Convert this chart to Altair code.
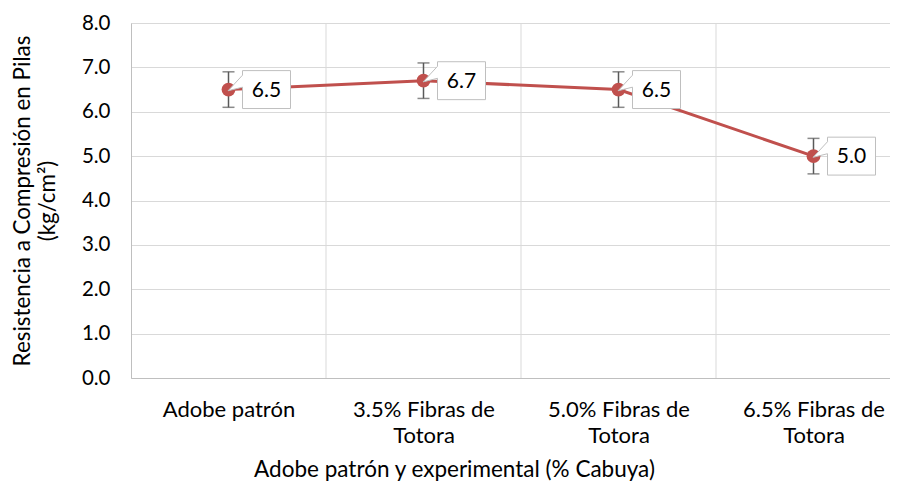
import json
import altair as alt
import pandas as pd

# ---- data ----
categories = ["Adobe patrón", "3.5% Fibras de Totora", "5.0% Fibras de Totora", "6.5% Fibras de Totora"]
label_lines = [["Adobe patrón"], ["3.5% Fibras de", "Totora"], ["5.0% Fibras de", "Totora"], ["6.5% Fibras de", "Totora"]]
values = [6.5, 6.7, 6.5, 5.0]
errors = [0.4, 0.4, 0.4, 0.4]
value_labels = ["6.5", "6.7", "6.5", "5.0"]
y_ticks = [0, 1, 2, 3, 4, 5, 6, 7, 8]
boundaries = [1, 2, 3]

FONT = "Lato"
RED = "#C0504D"

df = pd.DataFrame({
    "pos": [i + 0.5 for i in range(len(categories))],
    "cat": categories,
    "v": values,
    "lo": [v - e for v, e in zip(values, errors)],
    "hi": [v + e for v, e in zip(values, errors)],
    "lab": value_labels,
})
grid_df = pd.DataFrame({"b": boundaries})

W, H = 759, 355
x_max = W / 195.0

label_expr = json.dumps(label_lines, ensure_ascii=False) + "[floor(datum.value)]"

xscale = alt.Scale(domain=[0, x_max], nice=False, zero=False)
yscale = alt.Scale(domain=[0, 8], nice=False)

xaxis = alt.Axis(
    values=[i + 0.5 for i in range(len(categories))],
    labelExpr=label_expr,
    grid=False, ticks=False, tickSize=0,
    domainColor="#BFBFBF", domainWidth=1,
    labelFont=FONT, labelFontSize=22, labelColor="#000000",
    labelBaseline="top", labelPadding=21, labelLineHeight=26,
    labelOverlap=False, labelFlush=False, labelBound=False,
    title="Adobe patrón y experimental (% Cabuya)",
    titleFont=FONT, titleFontSize=22.5, titleFontWeight="normal", titleColor="#000000",
    titleAnchor="start", titleAlign="center", titleBaseline="middle",
    titleX=323, titleY=91,
)
yaxis = alt.Axis(
    values=y_ticks, format=".1f",
    grid=True, gridColor="#D9D9D9", gridWidth=1,
    ticks=False, tickSize=0,
    domainColor="#BFBFBF", domainWidth=1,
    labelFont=FONT, labelFontSize=20.5, labelColor="#000000",
    labelPadding=21, labelBaseline="middle",
    title=["Resistencia a Compresión en Pilas", "(kg/cm²)"],
    titleFont=FONT, titleFontSize=22.4, titleFontWeight="normal", titleColor="#000000",
    titleAngle=-90, titleAlign="center", titleBaseline="middle", titleLineHeight=25,
    titleX=-109, titleY=177.5,
)

base = alt.Chart(df)

vgrid = alt.Chart(grid_df).mark_rule(color="#D9D9D9", strokeWidth=1).encode(
    x=alt.X("b:Q", scale=xscale, axis=xaxis)
)

line = base.mark_line(color=RED, strokeWidth=3).encode(
    x=alt.X("pos:Q", scale=xscale, axis=xaxis),
    y=alt.Y("v:Q", scale=yscale, axis=yaxis),
)

err = base.mark_rule(color="#595959", strokeWidth=1.5).encode(
    x=alt.X("pos:Q", scale=xscale), y=alt.Y("lo:Q", scale=yscale), y2="hi:Q"
)
cap_lo = base.mark_tick(color="#595959", orient="horizontal", size=12, thickness=1.5).encode(
    x=alt.X("pos:Q", scale=xscale), y=alt.Y("lo:Q", scale=yscale)
)
cap_hi = base.mark_tick(color="#595959", orient="horizontal", size=12, thickness=1.5).encode(
    x=alt.X("pos:Q", scale=xscale), y=alt.Y("hi:Q", scale=yscale)
)

points = base.mark_point(filled=True, color=RED, size=190, opacity=1).encode(
    x=alt.X("pos:Q", scale=xscale), y=alt.Y("v:Q", scale=yscale)
)

callout_path = "M-1,-0.79L1,-0.79L1,0.79L-1,0.79L-1,-0.1L-1.6,0.05L-1,-0.6Z"
callout = base.mark_point(
    shape=callout_path, size=2304, filled=True, fill="white", fillOpacity=1,
    stroke="#BFBFBF", strokeWidth=1, strokeOpacity=1, opacity=1, xOffset=38,
).encode(x=alt.X("pos:Q", scale=xscale), y=alt.Y("v:Q", scale=yscale))

texts = base.mark_text(
    font=FONT, fontSize=21, color="#000000", align="center", baseline="middle", xOffset=38, yOffset=1
).encode(x=alt.X("pos:Q", scale=xscale), y=alt.Y("v:Q", scale=yscale), text="lab:N")

chart = alt.layer(vgrid, line, err, cap_lo, cap_hi, points, callout, texts).properties(
    width=W, height=H,
    autosize=alt.AutoSizeParams(type="none"),
    padding={"left": 123, "top": 15, "right": 0, "bottom": 103},
).configure_view(stroke=None).configure(background="white")

chart.save("out.html", embed_options={"renderer": "svg", "actions": False})
